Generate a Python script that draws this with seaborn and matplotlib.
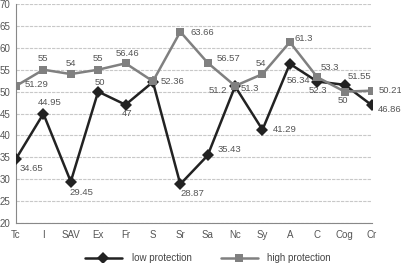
import matplotlib
matplotlib.use("Agg")
import matplotlib.pyplot as plt
import seaborn as sns
import pandas as pd
import numpy as np

categories = ["Tc", "I", "SAV", "Ex", "Fr", "S", "Sr", "Sa", "Nc", "Sy", "A", "C", "Cog", "Cr"]
low_protection = [34.65, 44.95, 29.45, 50, 47, 52.2, 28.87, 35.43, 51.2, 41.29, 56.34, 52.3, 51.55, 46.86]
high_protection = [51.29, 55, 54, 55, 56.46, 52.36, 63.66, 56.57, 51.3, 54, 61.3, 53.3, 50, 50.21]
low_labels = ["34.65", "44.95", "29.45", "50", "47", "", "28.87", "35.43", "51.2", "41.29", "56.34", "52.3", "51.55", "46.86"]
high_labels = ["51.29", "55", "54", "55", "56.46", "52.36", "63.66", "56.57", "51.3", "54", "61.3", "53.3", "50", "50.21"]
y_ticks = [20, 25, 30, 35, 40, 45, 50, 55, 60, 65, 70]

# label placement (pixel offsets, alignment)
low_off = [(4, -10, "left"), (6, 11, "center"), (-1, -11, "left"), (2, 9, "center"), (2, -9, "center"),
           (0, 0, "left"), (0, -9, "left"), (10, 6, "left"), (-8, -4, "right"), (10, 0, "left"),
           (9, -17, "center"), (1, -9, "center"), (3, 8, "left"), (6, -4, "left")]
high_off = [(9, 1, "left"), (0, 11, "center"), (0, 11, "center"), (0, 11, "center"), (2, 10, "center"),
            (8, 0, "left"), (10, -1, "left"), (9, 4, "left"), (6, -3, "left"), (-2, 11, "center"),
            (5, 4, "left"), (3, 10, "left"), (-2, -9, "center"), (7, 0, "left")]

sns.set_style("white")
plt.rcParams["font.family"] = ["Liberation Sans", "DejaVu Sans"]

x = np.arange(len(categories))
df = pd.DataFrame({
    "x": np.concatenate([x, x]),
    "value": low_protection + high_protection,
    "series": ["low protection"] * len(x) + ["high protection"] * len(x),
})

fig = plt.figure(figsize=(4.02, 2.63), dpi=100)
ax = fig.add_axes([16 / 402, 1 - 223 / 263, (372 - 16) / 402, (223 - 4) / 263])

sns.lineplot(data=df, x="x", y="value", hue="series", style="series",
             palette={"low protection": "#222222", "high protection": "#808080"},
             markers={"low protection": "D", "high protection": "s"},
             dashes=False, linewidth=1.8, markersize=5.8, markeredgewidth=0,
             ax=ax, legend=True, zorder=3)

label_color = "#555555"
for xi, v, lab, (dx, dy, ha) in zip(x, low_protection, low_labels, low_off):
    if lab:
        ax.annotate(lab, (xi, v), xytext=(dx, dy), textcoords="offset pixels",
                    ha=ha, va="center", fontsize=6.8, color=label_color, zorder=4)
for xi, v, lab, (dx, dy, ha) in zip(x, high_protection, high_labels, high_off):
    ax.annotate(lab, (xi, v), xytext=(dx, dy), textcoords="offset pixels",
                ha=ha, va="center", fontsize=6.8, color=label_color, zorder=4)

ax.set_xlim(0, len(categories) - 1)
ax.set_ylim(20, 70)
ax.set_xticks(x)
ax.set_xticklabels(categories)
ax.set_yticks(y_ticks)
ax.set_xlabel("")
ax.set_ylabel("")
ax.yaxis.grid(True, color="#c8c8c8", linewidth=0.8, linestyle=(0, (3, 1)))
ax.set_axisbelow(True)
for s in ["top", "right"]:
    ax.spines[s].set_visible(False)
for s in ["left", "bottom"]:
    ax.spines[s].set_color("#888888")
    ax.spines[s].set_linewidth(0.8)
ax.tick_params(axis="both", labelsize=7, colors="#555555", length=3, width=0.7, pad=2)
ax.tick_params(axis="y", length=3, pad=1)

handles, labels = ax.get_legend_handles_labels()
leg = ax.legend(handles, labels, loc="center left", bbox_to_anchor=((85 - 16) / 356, (223 - 258) / 219),
                ncol=2, frameon=False, fontsize=7, handlelength=3.8, columnspacing=3.0,
                handletextpad=1.0, borderpad=0, borderaxespad=0, labelcolor="#444444")

fig.savefig("out.png", dpi=100)
